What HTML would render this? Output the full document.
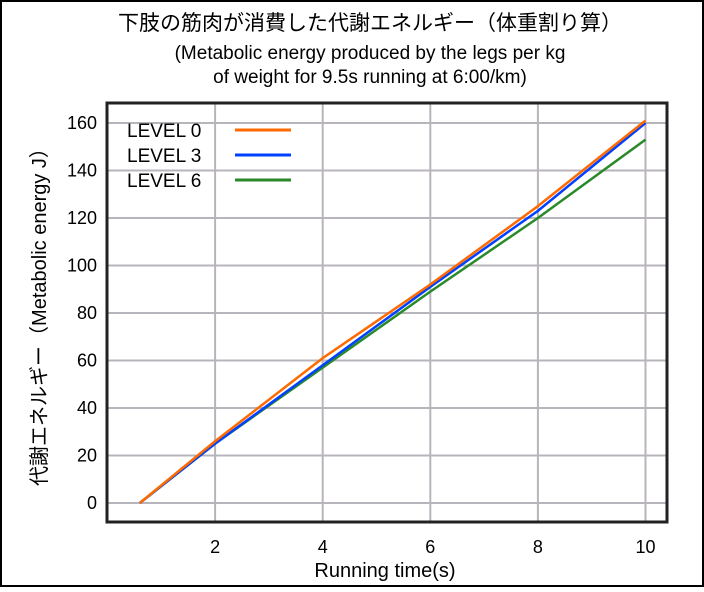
<!DOCTYPE html>
<html><head><meta charset="utf-8"><style>
body{margin:0;background:#fff}
svg text{font-family:"Liberation Sans","Noto Sans CJK JP",sans-serif;fill:#000}
</style></head><body>
<svg width="704" height="587" viewBox="0 0 704 587">
<rect x="1" y="1" width="702" height="585" fill="#fff" stroke="#000" stroke-width="2"/>
<text x="370" y="30" font-size="21" text-anchor="middle">下肢の筋肉が消費した代謝エネルギー（体重割り算）</text>
<text x="370" y="59" font-size="19" text-anchor="middle">(Metabolic energy produced by the legs per kg</text>
<text x="370" y="83" font-size="19" text-anchor="middle">of weight for 9.5s running at 6:00/km)</text>
<g id="grid"></g>
<g id="series"></g>
<rect x="107" y="103" width="560" height="419" fill="none" stroke="#222" stroke-width="3"/>
<g id="ticks"></g>
<text x="385" y="577" font-size="20" text-anchor="middle">Running time(s)</text>
<text transform="translate(46,312) rotate(-90)" font-size="20" text-anchor="middle">代謝エネルギー（Metabolic energy J）</text>
<g id="legend"></g>
</svg>
<script>
const xTicks=[2,4,6,8,10];
const yTicks=[0,20,40,60,80,100,120,140,160];
const times=[0.6,2,4,6,8,10];
const level0=[0,26,61,92,125,161];
const level3=[0,25,58,91,123,160];
const level6=[0,25,57,89,120,153];
const names=["LEVEL 0","LEVEL 3","LEVEL 6"];
const colors=["#ff6a00","#0040ff","#2a8a2a"];
const NS="http://www.w3.org/2000/svg";
const xs=v=>107.5+v*53.8, ys=v=>503-v*2.375;
function mk(t,a,p){const e=document.createElementNS(NS,t);for(const k in a)e.setAttribute(k,a[k]);p.appendChild(e);return e;}
const g=document.getElementById('grid'),tk=document.getElementById('ticks'),s=document.getElementById('series'),lg=document.getElementById('legend');
xTicks.forEach(v=>{const l=mk('line',{x1:xs(v),x2:xs(v),y1:103,y2:522,stroke:'#b8b4bc','stroke-width':2},g);


const t=mk('text',{x:xs(v),y:553,'font-size':18,'text-anchor':'middle'},tk);t.textContent=v;

});
yTicks.forEach(v=>{const l=mk('line',{x1:107,x2:667,y1:ys(v),y2:ys(v),stroke:'#b8b4bc','stroke-width':2},g);


const t=mk('text',{x:97,y:ys(v)+6,'font-size':18,'text-anchor':'end'},tk);t.textContent=v;

});
[level6,level3,level0].forEach((d,i)=>{const ci=2-i;
const p=mk('polyline',{points:d.map((v,j)=>xs(times[j])+','+ys(v)).join(' '),fill:'none',stroke:colors[ci],'stroke-width':2.5},s);

});
names.forEach((n,i)=>{const y=130+i*25;
const t=mk('text',{x:127,y:y+7,'font-size':19},lg);t.textContent=n;


const l=mk('line',{x1:235,x2:291,y1:y,y2:y,stroke:colors[i],'stroke-width':3},lg);

});
</script>
</body></html>
